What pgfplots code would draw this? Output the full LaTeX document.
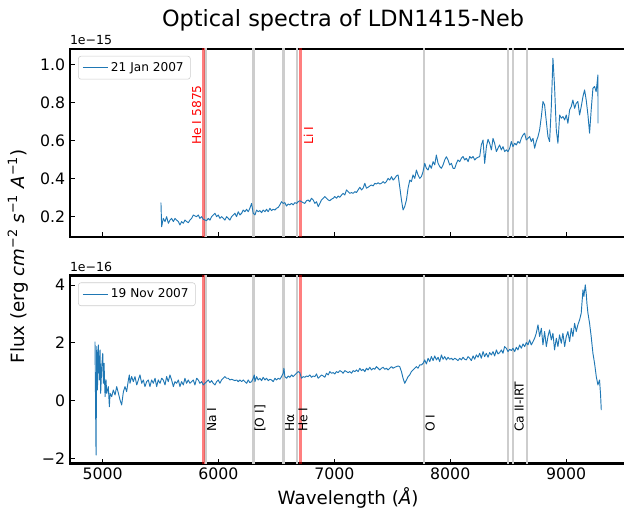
\documentclass[border=0pt]{standalone}
\usepackage{fontspec}
\setmainfont{DejaVu Sans}
\usepackage{pgfplots}
\pgfplotsset{compat=1.18}
\usetikzlibrary{calc}
\definecolor{specblue}{HTML}{1F77B4}
\definecolor{lgrey}{HTML}{CDCDCD}
\definecolor{legborder}{HTML}{CCCCCC}
\newcommand{\tickfont}{\fontsize{11.8}{13}\selectfont}
\newcommand{\annfont}{\fontsize{9.2}{11}\selectfont}
\pgfplotsset{
  specax/.style={
    scale only axis, width=417.6pt, height=141pt,
    xmin=4717, xmax=9521,
    axis line style={line width=1.8pt},
    tick align=inside, tick pos=left,
    major tick length=3.75pt,
    every tick/.style={black, line width=0.8pt},
    xtick={5000,6000,7000,8000,9000},
    /pgf/number format/1000 sep={},
    /pgf/number format/assume math mode=true,
    tick label style={font=\tickfont},
    legend style={at={(0.015,0.963)}, anchor=north west, draw=legborder, rounded corners=2pt,
      font=\fontsize{9.1}{11}\selectfont, inner xsep=3pt, inner ysep=2.5pt, fill=white},
    legend cell align=left,
    legend image code/.code={\draw[#1] (0cm,0cm) -- (0.66cm,0cm);},
    clip=true,
  },
  vgrey/.style={lgrey, line width=2pt, forget plot},
  vred/.style={red, opacity=0.5, line width=2.3pt, forget plot},
}
\begin{document}
\begin{tikzpicture}
% ---------------- top panel ----------------
\begin{axis}[specax, name=top, ymin=0.093, ymax=1.084,
  ytick={0.2,0.4,0.6,0.8,1.0}, yticklabels={0.2,0.4,0.6,0.8,1.0},
  xticklabels={}]
\addplot[vgrey] coordinates {(5890,-10) (5890,10)};
\addplot[vgrey] coordinates {(6300,-10) (6300,10)};
\addplot[vgrey] coordinates {(6563,-10) (6563,10)};
\addplot[vgrey] coordinates {(6678,-10) (6678,10)};
\addplot[vgrey] coordinates {(7774,-10) (7774,10)};
\addplot[vgrey] coordinates {(8498,-10) (8498,10)};
\addplot[vgrey] coordinates {(8542,-10) (8542,10)};
\addplot[vgrey] coordinates {(8662,-10) (8662,10)};
\addplot[vred] coordinates {(5875,-10) (5875,10)};
\addplot[vred] coordinates {(6708,-10) (6708,10)};
\addplot[specblue, line width=0.7pt, line join=round] table {
x y
5504 0.274
5510 0.147
5524 0.191
5539 0.174
5553 0.200
5568 0.165
5582 0.182
5596 0.191
5611 0.174
5625 0.191
5639 0.182
5654 0.174
5668 0.156
5682 0.174
5697 0.165
5711 0.182
5726 0.174
5740 0.168
5754 0.182
5769 0.191
5783 0.209
5797 0.204
5812 0.200
5826 0.209
5840 0.191
5855 0.200
5869 0.186
5884 0.182
5898 0.179
5912 0.191
5927 0.182
5941 0.200
5955 0.209
5970 0.218
5984 0.200
5998 0.209
6013 0.191
6027 0.200
6042 0.191
6056 0.182
6070 0.200
6085 0.191
6099 0.182
6113 0.200
6128 0.209
6142 0.218
6156 0.200
6171 0.226
6185 0.209
6200 0.218
6214 0.235
6228 0.226
6243 0.239
6257 0.226
6271 0.244
6286 0.270
6300 0.218
6315 0.209
6329 0.235
6343 0.226
6358 0.232
6372 0.221
6386 0.235
6401 0.226
6415 0.239
6429 0.226
6444 0.244
6458 0.232
6472 0.239
6487 0.235
6501 0.244
6516 0.249
6530 0.262
6544 0.279
6559 0.270
6573 0.274
6587 0.256
6602 0.267
6616 0.262
6630 0.270
6645 0.262
6659 0.274
6674 0.270
6688 0.279
6702 0.284
6717 0.279
6731 0.274
6745 0.270
6760 0.284
6774 0.288
6788 0.279
6803 0.297
6817 0.288
6832 0.270
6846 0.279
6861 0.253
6875 0.270
6889 0.288
6904 0.297
6918 0.306
6932 0.297
6947 0.288
6961 0.284
6975 0.292
6990 0.297
7004 0.306
7019 0.297
7033 0.309
7047 0.302
7062 0.314
7076 0.323
7090 0.314
7105 0.341
7119 0.332
7133 0.323
7148 0.327
7162 0.323
7177 0.332
7191 0.327
7205 0.341
7220 0.355
7234 0.341
7248 0.350
7263 0.376
7277 0.350
7291 0.355
7306 0.362
7320 0.367
7335 0.362
7349 0.376
7363 0.372
7378 0.379
7392 0.372
7406 0.376
7421 0.385
7435 0.376
7449 0.385
7464 0.402
7478 0.393
7493 0.411
7507 0.393
7521 0.402
7536 0.415
7550 0.420
7564 0.358
7579 0.288
7593 0.235
7607 0.253
7622 0.288
7636 0.350
7651 0.393
7665 0.385
7679 0.420
7694 0.402
7708 0.446
7722 0.420
7737 0.402
7751 0.411
7765 0.437
7780 0.481
7794 0.455
7809 0.446
7823 0.473
7837 0.455
7852 0.490
7866 0.473
7880 0.525
7895 0.481
7909 0.464
7924 0.455
7938 0.473
7952 0.499
7967 0.516
7981 0.499
7995 0.473
8010 0.481
8024 0.455
8039 0.455
8053 0.481
8067 0.499
8082 0.490
8096 0.508
8110 0.517
8125 0.499
8139 0.508
8154 0.490
8168 0.517
8182 0.508
8197 0.517
8211 0.499
8225 0.508
8240 0.513
8254 0.517
8268 0.578
8283 0.604
8297 0.481
8312 0.569
8326 0.608
8340 0.587
8355 0.552
8369 0.613
8383 0.587
8398 0.543
8412 0.561
8426 0.578
8441 0.552
8455 0.569
8470 0.543
8484 0.552
8498 0.543
8513 0.561
8527 0.596
8541 0.569
8556 0.587
8570 0.578
8584 0.596
8599 0.587
8613 0.613
8628 0.631
8642 0.640
8656 0.604
8671 0.613
8685 0.622
8699 0.596
8714 0.613
8728 0.561
8742 0.596
8757 0.622
8771 0.657
8786 0.728
8800 0.807
8814 0.789
8829 0.701
8843 0.622
8857 0.596
8872 0.780
8886 1.035
8900 0.886
8915 0.657
8929 0.587
8944 0.736
8958 0.719
8972 0.728
8987 0.710
9001 0.736
9015 0.692
9030 0.763
9044 0.780
9058 0.815
9073 0.771
9087 0.798
9101 0.807
9116 0.736
9130 0.780
9145 0.833
9159 0.868
9173 0.815
9188 0.736
9202 0.640
9216 0.763
9231 0.877
9245 0.886
9259 0.859
9274 0.947
9275 0.692
};
\addlegendentry{21 Jan 2007}
\node[rotate=90, anchor=south west, inner sep=0pt, text=red, font=\annfont] at (axis cs:5855,0.578) {He I 5875};
\node[rotate=90, anchor=north west, inner sep=0pt, text=red, font=\annfont] at (axis cs:6735,0.578) {Li I};
\end{axis}
% ---------------- bottom panel ----------------
\begin{axis}[specax, name=bot, at={($(top.south west)+(0,-28.9pt)$)}, anchor=north west,
  ymin=-2.175, ymax=4.335,
  ytick={-2,0,2,4}, yticklabels={−2,0,2,4},
  xticklabels={5000,6000,7000,8000,9000}]
\addplot[vgrey] coordinates {(5890,-10) (5890,10)};
\addplot[vgrey] coordinates {(6300,-10) (6300,10)};
\addplot[vgrey] coordinates {(6563,-10) (6563,10)};
\addplot[vgrey] coordinates {(6678,-10) (6678,10)};
\addplot[vgrey] coordinates {(7774,-10) (7774,10)};
\addplot[vgrey] coordinates {(8498,-10) (8498,10)};
\addplot[vgrey] coordinates {(8542,-10) (8542,10)};
\addplot[vgrey] coordinates {(8662,-10) (8662,10)};
\addplot[vred] coordinates {(5875,-10) (5875,10)};
\addplot[vred] coordinates {(6708,-10) (6708,10)};
\addplot[specblue, line width=0.7pt, line join=round] table {
x y
4935 2.048
4944 -1.882
4950 1.875
4956 0.372
4964 1.933
4973 0.719
4979 1.759
4984 0.257
4993 1.181
5002 1.644
5007 0.603
5013 1.297
5022 0.141
5030 0.719
5036 0.257
5050 0.488
5059 -0.206
5065 0.257
5079 0.141
5093 0.372
5108 0.199
5122 0.488
5137 0.257
5151 0.025
5165 -0.148
5180 0.314
5194 0.488
5208 0.314
5223 0.719
5231 0.892
5237 0.603
5251 0.835
5266 0.661
5280 0.835
5295 0.546
5309 0.719
5323 0.892
5338 0.603
5352 0.719
5366 0.488
5381 0.661
5395 0.719
5409 0.488
5424 0.719
5438 0.603
5453 0.777
5467 0.488
5481 0.719
5496 0.603
5510 0.777
5524 0.719
5539 0.546
5553 0.835
5567 0.661
5582 0.892
5596 0.719
5611 0.488
5625 0.661
5639 0.603
5654 0.719
5668 0.488
5682 0.661
5697 0.546
5711 0.777
5725 0.603
5740 0.719
5754 0.603
5769 0.661
5783 0.719
5797 0.546
5812 0.777
5826 0.719
5840 0.603
5855 0.661
5869 0.546
5883 0.603
5898 0.661
5912 0.719
5927 0.626
5941 0.696
5955 0.603
5970 0.546
5984 0.661
5998 0.719
6013 0.603
6027 0.719
6042 0.777
6056 0.835
6070 0.777
6085 0.777
6099 0.719
6113 0.742
6128 0.719
6142 0.696
6157 0.719
6171 0.661
6185 0.719
6200 0.661
6214 0.719
6228 0.661
6243 0.603
6257 0.719
6271 0.626
6286 0.661
6300 0.777
6309 0.892
6315 0.661
6329 0.834
6343 0.719
6358 0.777
6372 0.695
6386 0.811
6401 0.719
6415 0.777
6430 0.695
6444 0.742
6458 0.719
6473 0.661
6487 0.777
6501 0.719
6516 0.777
6530 0.742
6544 0.834
6559 0.950
6565 1.123
6573 0.834
6588 0.777
6602 0.857
6616 0.811
6631 0.892
6645 0.834
6659 0.892
6674 0.950
6688 1.008
6702 0.973
6717 0.777
6731 0.834
6746 0.811
6760 0.857
6774 0.834
6789 0.892
6803 0.811
6817 0.857
6832 0.834
6846 0.927
6860 0.777
6875 0.834
6889 0.892
6904 0.857
6918 0.811
6932 0.950
6947 0.892
6961 1.008
6975 0.950
6990 0.973
7004 0.927
7018 1.008
7033 0.973
7047 1.042
7062 1.008
7076 0.950
7090 1.042
7105 1.008
7119 0.973
7133 1.008
7148 0.950
7162 1.042
7177 1.008
7191 1.065
7205 1.008
7220 1.123
7234 1.042
7248 1.088
7263 1.008
7277 1.123
7291 1.065
7306 1.158
7320 1.065
7335 1.123
7349 1.088
7363 1.181
7378 1.123
7392 1.065
7406 1.123
7421 1.158
7435 1.088
7449 1.123
7464 1.065
7478 1.123
7493 1.181
7507 1.123
7521 1.158
7536 1.181
7550 1.204
7564 1.181
7579 1.008
7593 0.777
7607 0.603
7622 0.719
7636 0.834
7650 0.892
7665 1.008
7679 1.065
7694 1.123
7708 1.181
7722 1.123
7737 1.239
7751 1.238
7766 1.296
7780 1.412
7794 1.273
7809 1.470
7823 1.354
7837 1.527
7852 1.389
7866 1.550
7881 1.412
7895 1.504
7909 1.354
7924 1.585
7938 1.435
7952 1.527
7967 1.412
7981 1.504
7995 1.435
8010 1.470
8024 1.412
8039 1.470
8053 1.435
8067 1.389
8082 1.470
8096 1.412
8110 1.504
8125 1.435
8139 1.412
8153 1.527
8168 1.470
8182 1.389
8197 1.550
8211 1.435
8225 1.585
8240 1.504
8254 1.643
8268 1.470
8283 1.701
8297 1.527
8311 1.643
8326 1.504
8340 1.666
8355 1.585
8369 1.701
8383 1.550
8398 1.759
8412 1.620
8426 1.666
8441 1.759
8455 1.643
8469 1.874
8484 1.816
8498 1.701
8513 1.782
8527 1.736
8541 1.816
8556 1.701
8570 1.851
8584 1.759
8599 1.932
8613 1.816
8628 1.967
8642 1.874
8656 2.013
8671 1.932
8685 2.105
8699 1.932
8714 2.048
8728 2.163
8742 2.337
8757 2.626
8771 2.221
8786 2.510
8800 1.932
8814 2.394
8829 1.874
8843 2.221
8857 2.452
8872 2.105
8886 2.337
8900 1.759
8915 2.163
8929 1.874
8943 2.279
8958 1.990
8972 2.337
8987 1.874
9001 2.221
9015 2.394
9030 2.048
9044 2.510
9058 2.221
9073 2.683
9087 2.394
9101 2.626
9116 2.799
9130 3.030
9145 3.839
9153 3.608
9165 4.013
9173 3.724
9179 3.377
9188 3.030
9202 2.683
9216 2.221
9231 1.643
9245 1.296
9260 0.834
9274 0.545
9288 0.718
9297 0.198
9303 -0.322
};
\addlegendentry{19 Nov 2007}
\node[rotate=90, anchor=north west, inner sep=0pt, font=\annfont] at (axis cs:5900,-1.09) {Na I};
\node[rotate=90, anchor=north west, inner sep=0pt, font=\annfont] at (axis cs:6310,-1.09) {[O I]};
\node[rotate=90, anchor=north west, inner sep=0pt, font=\annfont] at (axis cs:6573,-1.09) {Hα};
\node[rotate=90, anchor=north west, inner sep=0pt, font=\annfont] at (axis cs:6688,-1.09) {He I};
\node[rotate=90, anchor=north west, inner sep=0pt, font=\annfont] at (axis cs:7784,-1.09) {O I};
\node[rotate=90, anchor=north west, inner sep=0pt, font=\annfont] at (axis cs:8552,-1.09) {Ca II-IRT};
\end{axis}
% ---------------- texts ----------------
\node[anchor=base west, inner sep=0pt, font=\fontsize{9.4}{11}\selectfont] at ($(top.north west)+(0,3pt)$) {1e−15};
\node[anchor=base west, inner sep=0pt, font=\fontsize{9.4}{11}\selectfont] at ($(bot.north west)+(0,3pt)$) {1e−16};
\node[anchor=base, inner sep=0pt, font=\fontsize{16.8}{19}\selectfont] at ($(top.north west)+(205pt,16.5pt)$) {Optical spectra of LDN1415-Neb};
\node[anchor=base, inner sep=0pt, font=\fontsize{13.7}{16}\selectfont] at ($(bot.south)+(0,-30.4pt)$) {Wavelength ({\itshape Å})};
\node[anchor=base, rotate=90, inner sep=0pt, font=\fontsize{13.7}{16}\selectfont] at ($($(top.north west)!0.5!(bot.south west)$)+(-34.3pt,0)$) {Flux (erg {\itshape cm}\textsuperscript{−2} {\itshape s}\textsuperscript{−1} {\itshape A}\textsuperscript{−1})};
\pgfresetboundingbox
\path ($(top.north west)+(-52.3pt,36.75pt)$) rectangle ($(bot.south east)+(-1.9pt,-39.4pt)$);
\end{tikzpicture}
\end{document}
